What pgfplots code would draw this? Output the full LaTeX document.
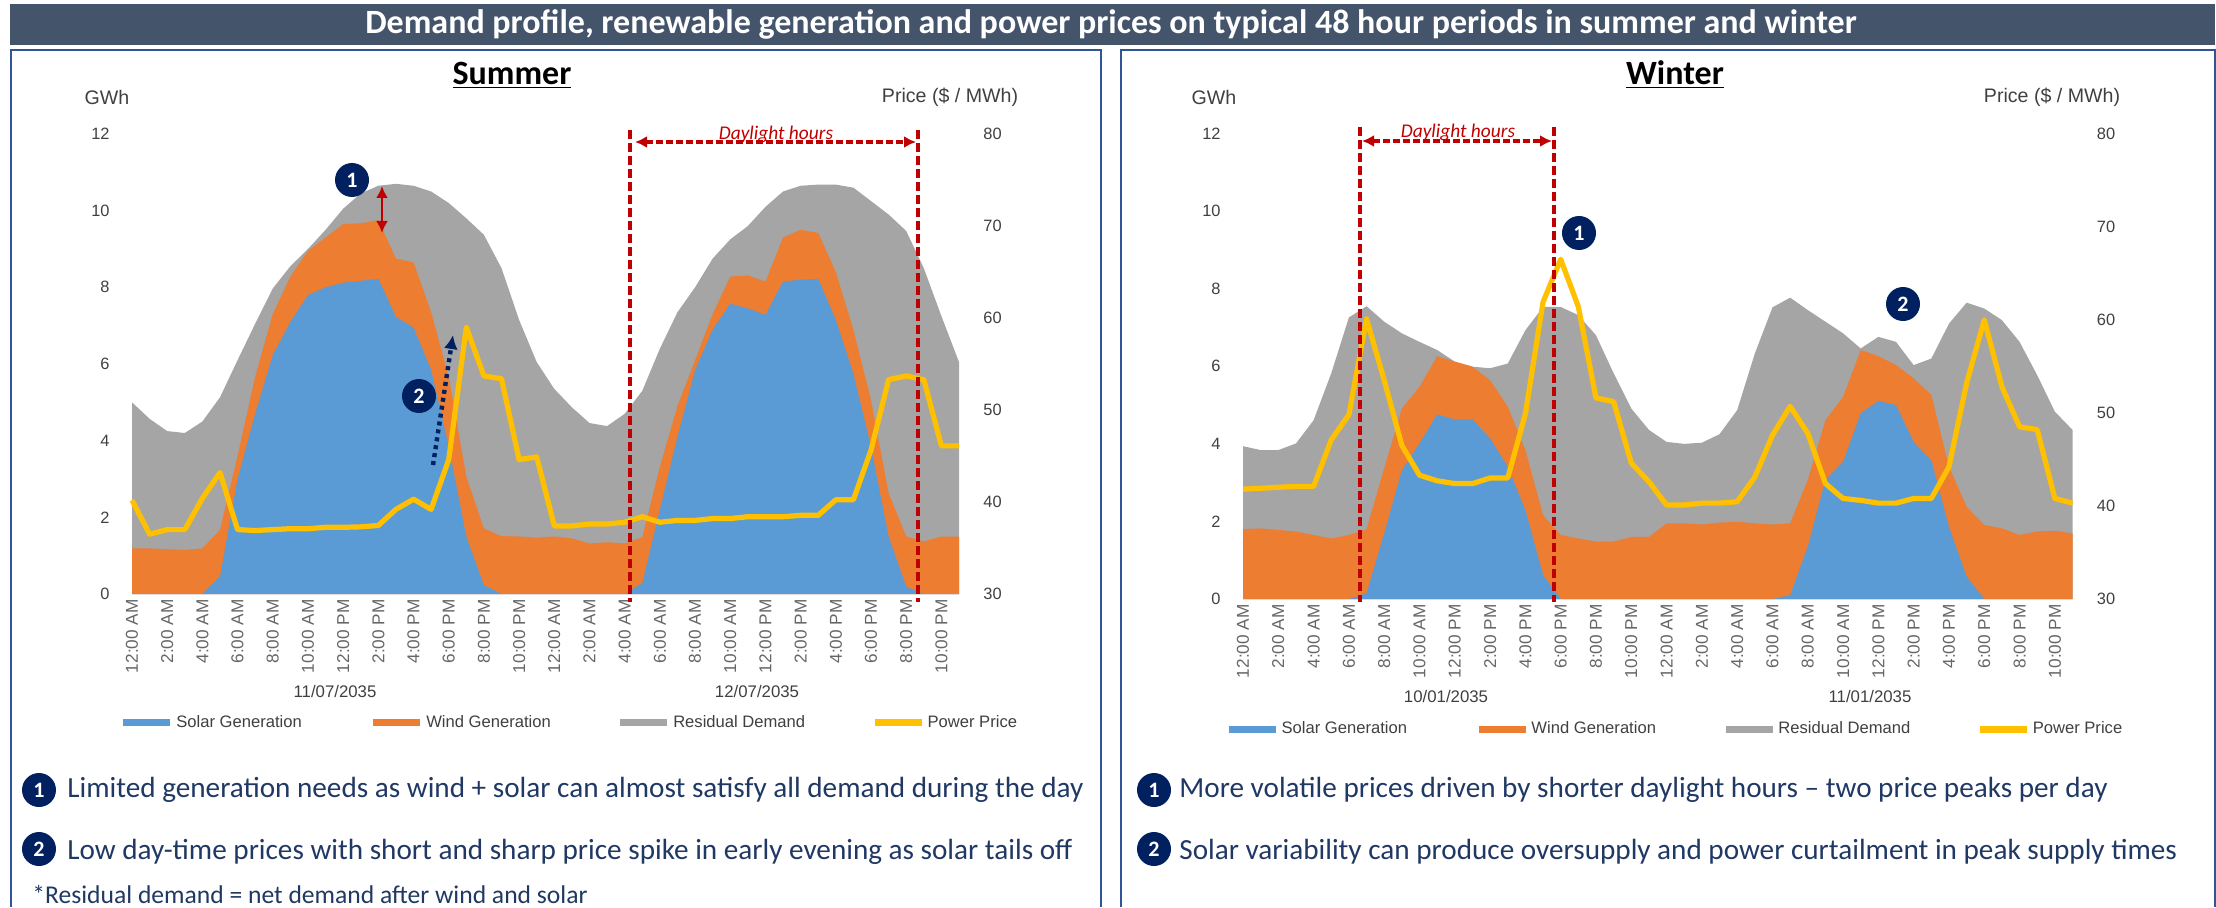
\documentclass[border=0pt]{standalone}
\usepackage{fontspec}
\setmainfont{Carlito}
\newfontfamily\arial{Liberation Sans}
\usepackage{pgfplots}
\usepackage{pgfplotstable}
\pgfplotsset{compat=1.18}
\usetikzlibrary{arrows.meta}
\definecolor{solarc}{HTML}{5B9BD5}
\definecolor{windc}{HTML}{ED7D31}
\definecolor{resc}{HTML}{A5A5A5}
\definecolor{pricec}{HTML}{FFC000}
\definecolor{barc}{HTML}{44546A}
\definecolor{navy}{HTML}{002060}
\definecolor{txtblue}{HTML}{203864}
\definecolor{panel}{HTML}{2F5597}
\definecolor{dred}{HTML}{C00000}
\definecolor{tickc}{HTML}{404040}
\pgfplotstableread{
h s sw t p
0 0 1.19 5.0 40.2
1 0 1.19 4.57 36.5
2 0 1.17 4.25 37
3 0 1.15 4.2 37
4 0 1.19 4.5 40.4
5 0.45 1.67 5.13 43.2
6 3.0 3.6 6.1 37
7 4.7 5.67 7.05 36.9
8 6.23 7.3 7.97 37
9 7.1 8.28 8.55 37.1
10 7.8 8.95 9.0 37.1
11 8.0 9.3 9.5 37.25
12 8.12 9.65 10.05 37.25
13 8.17 9.67 10.45 37.3
14 8.22 9.75 10.65 37.45
15 7.23 8.75 10.7 39.2
16 6.95 8.65 10.65 40.3
17 5.85 7.35 10.5 39.2
18 3.85 5.67 10.2 44.6
19 1.5 3.06 9.8 59
20 0.23 1.71 9.37 53.7
21 0 1.51 8.5 53.4
22 0 1.5 7.15 44.6
23 0 1.47 6.05 44.9
24 0 1.5 5.35 37.4
25 0 1.45 4.87 37.4
26 0 1.32 4.46 37.6
27 0 1.35 4.38 37.6
28 0 1.32 4.7 37.8
29 0.28 1.48 5.3 38.4
30 2.2 3.32 6.4 37.8
31 4.1 4.9 7.35 38
32 5.84 6.1 8.0 38
33 6.9 7.3 8.75 38.2
34 7.57 8.28 9.25 38.2
35 7.45 8.31 9.6 38.4
36 7.28 8.15 10.1 38.4
37 8.15 9.3 10.5 38.4
38 8.2 9.5 10.65 38.55
39 8.22 9.42 10.68 38.55
40 7.15 8.4 10.68 40.25
41 5.75 6.89 10.6 40.25
42 3.84 5.06 10.25 45.65
43 1.5 2.63 9.9 53.3
44 0.19 1.5 9.47 53.7
45 0 1.37 8.5 53.3
46 0 1.5 7.25 46.1
47 0 1.5 6.05 46.1
}\summerdata
\pgfplotstableread{
h s sw t p
0 0 1.8 3.94 41.8
1 0 1.82 3.84 41.9
2 0 1.78 3.84 42
3 0 1.74 4.01 42.1
4 0 1.65 4.61 42.1
5 0 1.56 5.82 47.1
6 0 1.65 7.26 49.8
7 0.15 1.8 7.55 60.1
8 1.69 3.37 7.15 53.5
9 3.32 4.91 6.85 46.5
10 4.01 5.47 6.63 43.3
11 4.76 6.26 6.42 42.7
12 4.63 6.12 6.12 42.4
13 4.63 5.99 5.99 42.4
14 4.14 5.64 5.95 43
15 3.41 4.96 6.07 43
16 2.29 3.84 6.93 49.9
17 0.62 2.16 7.53 61.9
18 0 1.65 7.53 66.5
19 0 1.56 7.32 61.4
20 0 1.48 6.8 51.6
21 0 1.48 5.82 51.2
22 0 1.6 4.91 44.6
23 0 1.6 4.36 42.6
24 0 1.95 4.05 40.1
25 0 1.95 4.0 40.1
26 0 1.92 4.03 40.3
27 0 1.97 4.25 40.3
28 0 1.99 4.87 40.45
29 0 1.95 6.33 43.1
30 0 1.92 7.52 47.6
31 0.1 1.95 7.77 50.7
32 1.35 3.07 7.45 47.8
33 3.07 4.61 7.15 42.4
34 3.54 5.21 6.85 40.8
35 4.79 6.42 6.46 40.6
36 5.11 6.26 6.76 40.3
37 5.0 6.03 6.63 40.3
38 4.05 5.69 6.03 40.8
39 3.58 5.26 6.2 40.8
40 1.86 3.41 7.1 44.2
41 0.58 2.38 7.64 53.2
42 0 1.91 7.49 60
43 0 1.82 7.19 52.8
44 0 1.65 6.63 48.5
45 0 1.74 5.77 48.2
46 0 1.76 4.83 40.8
47 0 1.69 4.36 40.3
}\winterdata
\pgfplotsset{
  base/.style={
    scale only axis, width=413.5pt, height=230pt,
    xmin=0, xmax=47, clip=false,
    axis line style={draw=none}, major tick length=0pt,
  },
  legimg/.style={legend image code/.code={\draw[#1,line width=3.5pt] (0pt,0pt)--(23.5pt,0pt);}},
}
\newcommand{\bubble}[3]{\fill[navy] (#1,#2) ellipse (17 and 17);
  \node[text=white,font=\bfseries\fontsize{11}{13}\selectfont] at (#1,#2) {#3};}
\begin{document}
\begin{tikzpicture}[x=0.5pt,y=0.5pt]
\path[use as bounding box] (0,0) rectangle (2216,907);
% banner
\fill[barc] (10,862) rectangle (2215,903);
\node[text=white,font=\bfseries\fontsize{17}{20}\selectfont] at (1111,883) {Demand profile, renewable generation and power prices on typical 48 hour periods in summer and winter};
% panels
\draw[panel,line width=1pt] (11,0)--(11,857)--(1101,857)--(1101,0);
\draw[panel,line width=1pt] (1121,0)--(1121,857)--(2215,857)--(2215,0);
\node[font=\bfseries\fontsize{17}{20}\selectfont] at (512,832) {\underline{Summer}};
\node[font=\bfseries\fontsize{17}{20}\selectfont] at (1675,832) {\underline{Winter}};
% SUMMER
\begin{axis}[base, at={(66pt,156.5pt)}, anchor=south west,
  ymin=0, ymax=12, ytick={0,2,...,12},
  axis y line*=left, axis x line*=bottom,
  xtick={0,2,...,46},
  xticklabels={12:00 AM,2:00 AM,4:00 AM,6:00 AM,8:00 AM,10:00 AM,12:00 PM,2:00 PM,4:00 PM,6:00 PM,8:00 PM,10:00 PM,12:00 AM,2:00 AM,4:00 AM,6:00 AM,8:00 AM,10:00 AM,12:00 PM,2:00 PM,4:00 PM,6:00 PM,8:00 PM,10:00 PM},
  xticklabel style={rotate=90,anchor=east,font=\arial\fontsize{8.6}{10}\selectfont,text=tickc!80,inner sep=0pt},
  x tick label style={xshift=-2.5pt,yshift=0pt},
  yticklabel style={font=\arial\fontsize{8.2}{10}\selectfont,text=tickc,inner sep=0pt,/pgf/number format/assume math mode=true,xshift=-11pt},
  legend columns=4,
  legend style={at={(-0.015,-0.28)},anchor=west,draw=none,fill=none,inner sep=0pt,
    font=\arial\fontsize{8.3}{10}\selectfont,text=tickc,
    /tikz/column 1/.style={column sep=-0.8pt},/tikz/column 3/.style={column sep=-0.8pt},/tikz/column 5/.style={column sep=-0.8pt},/tikz/column 7/.style={column sep=-0.8pt},
    /tikz/column 2/.style={column sep=32pt},/tikz/column 4/.style={column sep=31pt},/tikz/column 6/.style={column sep=31pt}},
]
\addplot[fill=resc,draw=none,forget plot] table[x=h,y=t]{\summerdata} \closedcycle;
\addplot[fill=windc,draw=none,forget plot] table[x=h,y=sw]{\summerdata} \closedcycle;
\addplot[fill=solarc,draw=none,forget plot] table[x=h,y=s]{\summerdata} \closedcycle;
\addlegendimage{legimg=solarc}\addlegendentry{Solar Generation}
\addlegendimage{legimg=windc}\addlegendentry{Wind Generation}
\addlegendimage{legimg=resc}\addlegendentry{Residual Demand}
\addlegendimage{legimg=pricec}\addlegendentry{Power Price}
\end{axis}
\begin{axis}[base, at={(66pt,156.5pt)}, anchor=south west,
  ymin=30, ymax=80, ytick={30,40,...,80},
  axis y line*=right, axis x line=none,
  yticklabel style={font=\arial\fontsize{8.2}{10}\selectfont,text=tickc,inner sep=0pt,/pgf/number format/assume math mode=true,xshift=12pt},
]
\addplot[pricec,line width=2.6pt,line join=round] table[x=h,y=p]{\summerdata};
\end{axis}
% WINTER
\begin{axis}[base, at={(621.5pt,154pt)}, anchor=south west, width=414.75pt, height=232.7pt,
  ymin=0, ymax=12, ytick={0,2,...,12},
  axis y line*=left, axis x line*=bottom,
  xtick={0,2,...,46},
  xticklabels={12:00 AM,2:00 AM,4:00 AM,6:00 AM,8:00 AM,10:00 AM,12:00 PM,2:00 PM,4:00 PM,6:00 PM,8:00 PM,10:00 PM,12:00 AM,2:00 AM,4:00 AM,6:00 AM,8:00 AM,10:00 AM,12:00 PM,2:00 PM,4:00 PM,6:00 PM,8:00 PM,10:00 PM},
  xticklabel style={rotate=90,anchor=east,font=\arial\fontsize{8.6}{10}\selectfont,text=tickc!80,inner sep=0pt},
  x tick label style={xshift=-2.5pt,yshift=0pt},
  yticklabel style={font=\arial\fontsize{8.2}{10}\selectfont,text=tickc,inner sep=0pt,/pgf/number format/assume math mode=true,xshift=-11pt},
  legend columns=4,
  legend style={at={(-0.022,-0.28)},anchor=west,draw=none,fill=none,inner sep=0pt,
    font=\arial\fontsize{8.3}{10}\selectfont,text=tickc,
    /tikz/column 1/.style={column sep=-0.8pt},/tikz/column 3/.style={column sep=-0.8pt},/tikz/column 5/.style={column sep=-0.8pt},/tikz/column 7/.style={column sep=-0.8pt},
    /tikz/column 2/.style={column sep=32pt},/tikz/column 4/.style={column sep=31pt},/tikz/column 6/.style={column sep=31pt}},
]
\addplot[fill=resc,draw=none,forget plot] table[x=h,y=t]{\winterdata} \closedcycle;
\addplot[fill=windc,draw=none,forget plot] table[x=h,y=sw]{\winterdata} \closedcycle;
\addplot[fill=solarc,draw=none,forget plot] table[x=h,y=s]{\winterdata} \closedcycle;
\addlegendimage{legimg=solarc}\addlegendentry{Solar Generation}
\addlegendimage{legimg=windc}\addlegendentry{Wind Generation}
\addlegendimage{legimg=resc}\addlegendentry{Residual Demand}
\addlegendimage{legimg=pricec}\addlegendentry{Power Price}
\end{axis}
\begin{axis}[base, at={(621.5pt,154pt)}, anchor=south west, width=414.75pt, height=232.7pt,
  ymin=30, ymax=80, ytick={30,40,...,80},
  axis y line*=right, axis x line=none,
  yticklabel style={font=\arial\fontsize{8.2}{10}\selectfont,text=tickc,inner sep=0pt,/pgf/number format/assume math mode=true,xshift=12pt},
]
\addplot[pricec,line width=2.6pt,line join=round] table[x=h,y=p]{\winterdata};
\end{axis}
% axis captions
\begin{scope}[every node/.style={text=tickc,font=\arial\fontsize{9.8}{11}\selectfont}]
\node at (107,810) {GWh};
\node at (950,810) {Price (\$ / MWh)};
\node at (1214,810) {GWh};
\node at (2052,810) {Price (\$ / MWh)};
\node[font=\arial\fontsize{8.4}{10}\selectfont] at (335,216) {11/07/2035};
\node[font=\arial\fontsize{8.4}{10}\selectfont] at (757,216) {12/07/2035};
\node[font=\arial\fontsize{8.4}{10}\selectfont] at (1446,211) {10/01/2035};
\node[font=\arial\fontsize{8.4}{10}\selectfont] at (1870,211) {11/01/2035};
\end{scope}
% daylight annotations
\draw[dred,line width=1.6pt,dash pattern=on 4.5pt off 2pt] (630,777)--(630,305);
\draw[dred,line width=1.6pt,dash pattern=on 4.5pt off 2pt] (918,777)--(918,305);
\draw[dred,line width=1.6pt,dash pattern=on 3.5pt off 1.5pt,{Latex[length=6pt,width=6pt]}-{Latex[length=6pt,width=6pt]}] (635,765)--(916,765);
\node[text=dred,font=\itshape\fontsize{9.7}{11}\selectfont] at (776,773) {Daylight hours};
\draw[dred,line width=1.6pt,dash pattern=on 4.5pt off 2pt] (1360,780)--(1360,305);
\draw[dred,line width=1.6pt,dash pattern=on 4.5pt off 2pt] (1554,780)--(1554,305);
\draw[dred,line width=1.6pt,dash pattern=on 3.5pt off 1.5pt,{Latex[length=6pt,width=6pt]}-{Latex[length=6pt,width=6pt]}] (1362,766)--(1552,766);
\node[text=dred,font=\itshape\fontsize{9.7}{11}\selectfont] at (1458,775) {Daylight hours};
% arrows and markers
\draw[dred,line width=1.2pt,{Latex[length=6pt,width=6pt]}-{Latex[length=6pt,width=6pt]}] (382,721)--(382,674);
\draw[navy,line width=2.2pt,dash pattern=on 2pt off 2pt,-{Latex[length=7pt,width=7pt]}] (433,442)--(453,572);
\bubble{352}{727}{1}
\bubble{419}{511}{2}
\bubble{1579}{674}{1}
\bubble{1903}{603}{2}
% bottom text
\bubble{39}{117}{1}
\bubble{39}{58}{2}
\bubble{1154}{117}{1}
\bubble{1154}{58}{2}
\begin{scope}[every node/.style={text=txtblue,anchor=west,inner sep=0pt,font=\fontsize{14.6}{17}\selectfont}]
\node at (67,117) {Limited generation needs as wind + solar can almost satisfy all demand during the day};
\node at (67,55) {Low day-time prices with short and sharp price spike in early evening as solar tails off};
\node[font=\fontsize{12.8}{15}\selectfont] at (32,13) {*Residual demand = net demand after wind and solar};
\node at (1179,117) {More volatile prices driven by shorter daylight hours -- two price peaks per day};
\node at (1179,55) {Solar variability can produce oversupply and power curtailment in peak supply times};
\end{scope}
\end{tikzpicture}
\end{document}
